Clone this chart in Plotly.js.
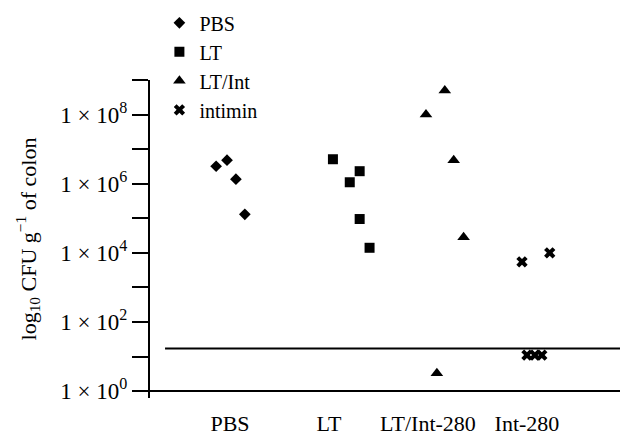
<!DOCTYPE html>
<html>
<head>
<meta charset="utf-8">
<script src="https://cdn.plot.ly/plotly-3.0.1.min.js"></script>
<style>html,body{margin:0;padding:0;background:#fff;}#chart{width:623px;height:438px;}</style>
</head>
<body>
<div id="chart"></div>
<script>
// Categories along the x axis
const categories = ['PBS', 'LT', 'LT/Int-280', 'Int-280'];
const categoryPos = [1, 2, 3, 4];

// Series (x = jittered category position, y = CFU per g of colon)
const pbsX = [0.86, 0.97, 1.06, 1.15];
const pbsY = [3.2e6, 4.8e6, 1.35e6, 1.3e5];

const ltX = [2.04, 2.31, 2.21, 2.31, 2.41];
const ltY = [5.1e6, 2.3e6, 1.1e6, 9.5e4, 1.4e4];

const ltIntX = [3.17, 2.98, 3.26, 3.36, 3.09];
const ltIntY = [5.0e8, 1.0e8, 4.8e6, 2.8e4, 3.3];

const intiminX = [3.95, 4.23, 4.00, 4.08, 4.15];
const intiminY = [5.5e3, 1.0e4, 11, 11, 11];

const detectionLimit = 17;

// Y tick labels
const yTickVals = [1, 10, 1e2, 1e3, 1e4, 1e5, 1e6, 1e7, 1e8, 1e9];
const yTickText = ['1 × 10<sup>0</sup>', '', '1 × 10<sup>2</sup>', '', '1 × 10<sup>4</sup>', '',
                   '1 × 10<sup>6</sup>', '', '1 × 10<sup>8</sup>', ''];

const FONT = '"Liberation Serif"';

const traces = [
  {x: pbsX, y: pbsY, name: 'PBS', mode: 'markers', type: 'scatter',
   marker: {symbol: 'diamond', size: 9, color: '#000'}},
  {x: ltX, y: ltY, name: 'LT', mode: 'markers', type: 'scatter',
   marker: {symbol: 'square', size: 10, color: '#000'}},
  {x: ltIntX, y: ltIntY, name: 'LT/Int', mode: 'markers', type: 'scatter',
   marker: {symbol: 'triangle-up', size: 11, color: '#000'}},
  {x: intiminX, y: intiminY, name: 'intimin', mode: 'markers', type: 'scatter',
   marker: {symbol: 'x', size: 10, color: '#000'}}
];

const layout = {
  width: 623, height: 438,
  margin: {l: 150, r: 3, t: 80, b: 40, pad: 0},
  paper_bgcolor: '#fff', plot_bgcolor: '#fff',
  font: {family: FONT, size: 22, color: '#000'},
  showlegend: true,
  legend: {x: 0.02, xanchor: 'left', y: 1.241, yanchor: 'top',
           font: {family: FONT, size: 20, color: '#000'},
           bgcolor: 'rgba(0,0,0,0)', borderwidth: 0, tracegroupgap: 0},
  xaxis: {
    range: [0.192, 4.94],
    tickmode: 'array', tickvals: categoryPos, ticktext: categories,
    showline: false, showgrid: false, zeroline: false, ticks: '',
    ticklabelstandoff: 10,
    tickfont: {family: FONT, size: 22, color: '#000'}
  },
  yaxis: {
    type: 'log', range: [-0.2, 9],
    tickmode: 'array', tickvals: yTickVals, ticktext: yTickText,
    showline: true, linecolor: '#000', linewidth: 2,
    ticks: 'outside', ticklen: 16, tickwidth: 2, tickcolor: '#000',
    showgrid: false, zeroline: false,
    tickfont: {family: FONT, size: 23, color: '#000'},
    title: {text: 'log<sub>10</sub> CFU g<sup>−1</sup> of colon',
            font: {family: FONT, size: 22, color: '#000'}, standoff: 18}
  },
  shapes: [
    {type: 'line', xref: 'paper', yref: 'y', x0: 0, x1: 1, y0: 1, y1: 1,
     line: {color: '#000', width: 2}},
    {type: 'line', xref: 'paper', yref: 'y', x0: 0.032, x1: 1, y0: detectionLimit, y1: detectionLimit,
     line: {color: '#000', width: 2}}
  ]
};

Plotly.newPlot('chart', traces, layout, {displayModeBar: false, staticPlot: true});
</script>
</body>
</html>
